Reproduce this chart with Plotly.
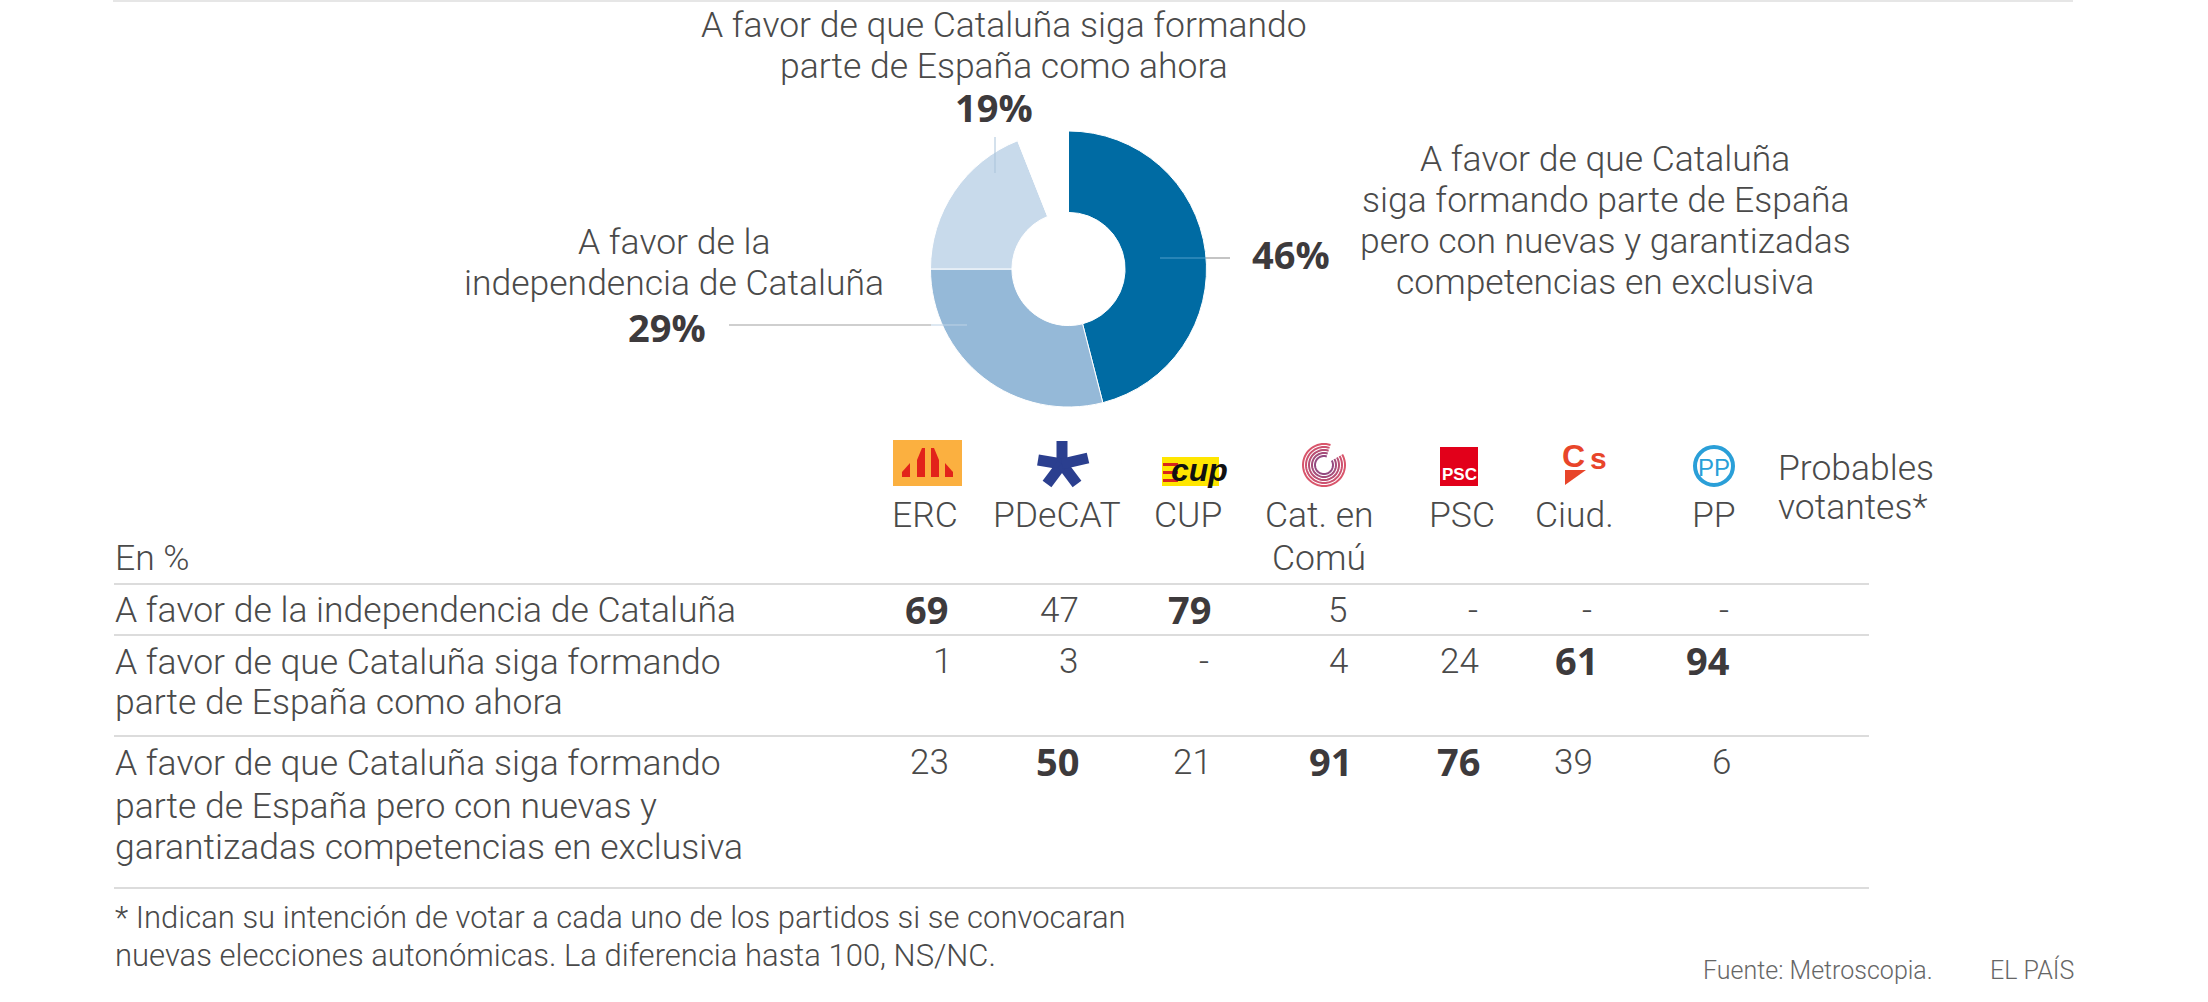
import numpy as np
import plotly.graph_objects as go

W, H = 2208, 1002
FONT = "Roboto"
BOLD_FONT = "Open Sans"
GREY = "#4a4a4a"
DARK = "#3d3a3c"

# Donut
pie_labels = ["Seguir con nuevas competencias", "Independencia", "Como ahora", "Resto"]
pie_values = [46, 29, 19, 6]
pie_colors = ["#006ba3", "#95b9d8", "#c8daeb", "#ffffff"]

top_lines = ["A favor de que Cataluña siga formando", "parte de España como ahora"]
right_lines = ["A favor de que Cataluña", "siga formando parte de España",
               "pero con nuevas y garantizadas", "competencias en exclusiva"]
left_lines = ["A favor de la", "independencia de Cataluña"]
pct_labels = ["19%", "46%", "29%"]

# Table
parties = ["ERC", "PDeCAT", "CUP", "Cat. en", "PSC", "Ciud.", "PP"]
row_independencia = ["69", "47", "79", "5", "-", "-", "-"]
row_ahora = ["1", "3", "-", "4", "24", "61", "94"]
row_competencias = ["23", "50", "21", "91", "76", "39", "6"]
bold_independencia = ["69", "79"]
bold_ahora = ["61", "94"]
bold_competencias = ["50", "91", "76"]
row_labels = [["A favor de la independencia de Cataluña"],
              ["A favor de que Cataluña siga formando", "parte de España como ahora"],
              ["A favor de que Cataluña siga formando", "parte de España pero con nuevas y",
               "garantizadas competencias en exclusiva"]]
footnote = ["* Indican su intención de votar a cada uno de los partidos si se convocaran",
            "nuevas elecciones autonómicas. La diferencia hasta 100, NS/NC."]

# Layout positions in pixels
party_x = [925, 1057, 1188, 1319, 1462, 1574, 1714]
cells_x = [[926, 1059, 1189, 1337, 1473, 1587, 1724],
           [942, 1068, 1204, 1338, 1459, 1576, 1708],
           [929, 1057, 1192, 1330, 1458, 1573, 1721]]
cells_y = [610, 661, 762]
label_y = [[610], [662, 702], [763, 806, 847]]
rule_y = [584, 635, 736, 888]
CX, CY, R = 1068.5, 269, 138
SIZE = 35.5


def px(x):
    return x / W


def py(y):
    return 1 - y / H


def text(x, y, s, size=SIZE, color=GREY, anchor="center", bold=False, family=FONT, italic=False):
    annotations.append(dict(
        x=px(x), y=py(y), xref="paper", yref="paper", text=s, showarrow=False,
        xanchor=anchor, yanchor="middle",
        font=dict(family=family, size=size, color=color,
                  weight=700 if bold else 300, style="italic" if italic else "normal")))


def line(x0, y0, x1, y1, color="#dcdcdc", width=2):
    shapes.append(dict(type="line", xref="paper", yref="paper", x0=px(x0), y0=py(y0),
                       x1=px(x1), y1=py(y1), line=dict(color=color, width=width)))


def rect(x0, y0, x1, y1, color):
    shapes.append(dict(type="rect", xref="paper", yref="paper", x0=px(x0), y0=py(y0),
                       x1=px(x1), y1=py(y1), fillcolor=color, line=dict(width=0)))


def poly(points, color):
    path = "M" + " L".join(f"{px(a):.5f},{py(b):.5f}" for a, b in points) + " Z"
    shapes.append(dict(type="path", xref="paper", yref="paper", path=path,
                       fillcolor=color, line=dict(width=0)))


def arc(cx, cy, r, start, end, color, width):
    angles = np.radians(np.arange(start, end + 1, 6))
    pts = [(cx + r * np.cos(a), cy + r * np.sin(a)) for a in angles]
    path = "M" + " L".join(f"{px(a):.5f},{py(b):.5f}" for a, b in pts)
    shapes.append(dict(type="path", xref="paper", yref="paper", path=path,
                       line=dict(color=color, width=width)))


annotations = []
shapes = []

# Top border
rect(113, 0, 2073, 2, "#e6e6e6")

# Donut labels
for y, s in zip([25, 66], top_lines):
    text(1004, y, s)
for y, s in zip([159, 200, 241, 282], right_lines):
    text(1605, y, s)
for y, s in zip([242, 283], left_lines):
    text(674, y, s)
text(994, 107, pct_labels[0], size=38, color=DARK, bold=True, family=BOLD_FONT)
text(1291, 254, pct_labels[1], size=38, color=DARK, bold=True, family=BOLD_FONT)
text(667, 327, pct_labels[2], size=38, color=DARK, bold=True, family=BOLD_FONT)

# Leader lines
line(995, 137, 995, 173, "#a9c3da", 1)
line(1160, 258, 1206, 258, "#4f9fcb", 1)
line(1206, 258, 1230, 258, "#c4c4c4", 2)
line(729, 325, 931, 325, "#cfcfcf", 2)
line(931, 325, 967, 325, "#bdd2e5", 1)

# Party logos
rect(893, 440, 962, 486, "#fbb040")
poly([(902, 472), (910, 463), (910, 477), (902, 477)], "#e2231a")
poly([(917, 460), (922, 448), (925, 448), (925, 477), (917, 477)], "#e2231a")
poly([(931, 448), (934, 448), (939, 460), (939, 477), (931, 477)], "#e2231a")
poly([(945, 463), (953, 472), (953, 477), (945, 477)], "#e2231a")

for ex, ey in [(1062, 441), (1038, 460), (1047, 484), (1077, 484)]:
    line(1062, 464, ex, ey, "#2b3f8f", 11)
line(1062, 464, 1088, 458, "#2b3f8f", 11)

rect(1162, 457, 1219, 486, "#ffe600")
for y0 in [463, 471, 479]:
    rect(1163, y0, 1178, y0 + 3, "#d7261e")
text(1199, 470, "cup", size=32, color="#111111", bold=True, family="Liberation Sans", italic=True)

for r, c in zip([21, 18, 15, 12, 9], ["#d9556b", "#cc5270", "#b84f74", "#a44d7a", "#944a80"]):
    arc(1324, 465, r, -30, 290, c, 2)

rect(1440, 447, 1478, 486, "#e2001a")
text(1459, 474, "PSC", size=17, color="#ffffff", bold=True, family="Liberation Sans")

text(1573, 456, "C", size=32, color="#e8452a", bold=True, family="Liberation Sans")
text(1598, 458, "s", size=30, color="#e8452a", bold=True, family="Liberation Sans")
poly([(1565, 470), (1586, 470), (1565, 485)], "#e8452a")

shapes.append(dict(type="circle", xref="paper", yref="paper", x0=px(1695), y0=py(447),
                   x1=px(1733), y1=py(485), line=dict(color="#2a9fd8", width=4)))
text(1714, 467, "PP", size=24, color="#2a9fd8", family="Liberation Sans")

# Table header
for x, s in zip(party_x, parties):
    text(x, 515, s)
text(1319, 558, "Comú")
text(1776, 468, "Probables", anchor="left")
text(1776, 507, "votantes*", anchor="left")
text(113, 558, "En %", anchor="left")

# Table rows
rows = [row_independencia, row_ahora, row_competencias]
bolds = [bold_independencia, bold_ahora, bold_competencias]
for row, bold, xs, y in zip(rows, bolds, cells_x, cells_y):
    for s, x in zip(row, xs):
        if s in bold:
            text(x, y - 1, s, size=38, color=DARK, bold=True, family=BOLD_FONT)
        else:
            text(x, y, s, size=35)
for lines, ys in zip(row_labels, label_y):
    for s, y in zip(lines, ys):
        text(113, y, s, anchor="left")
for y in rule_y:
    line(114, y, 1869, y)

# Footer
for y, s in zip([917, 955], footnote):
    text(113, y, s, size=31, anchor="left")
text(1701, 970, "Fuente: Metroscopia.", size=25, color="#666666", anchor="left")
text(1988, 970, "EL PAÍS", size=25, color="#666666", anchor="left")

fig = go.Figure(go.Pie(
    labels=pie_labels, values=pie_values, hole=0.41, sort=False, direction="clockwise",
    rotation=0, textinfo="none", hoverinfo="skip", showlegend=False,
    marker=dict(colors=pie_colors, line=dict(color="#ffffff", width=1)),
    domain=dict(x=[(CX - R) / W, (CX + R) / W], y=[1 - (CY + R) / H, 1 - (CY - R) / H])))

fig.update_layout(width=W, height=H, margin=dict(l=0, r=0, t=0, b=0),
                  paper_bgcolor="#ffffff", plot_bgcolor="#ffffff",
                  annotations=annotations, shapes=shapes)
# page margin would shift the whole figure
fig.write_html("out.html", config=dict(displayModeBar=False),
               post_script="document.body.style.margin = '0';")
